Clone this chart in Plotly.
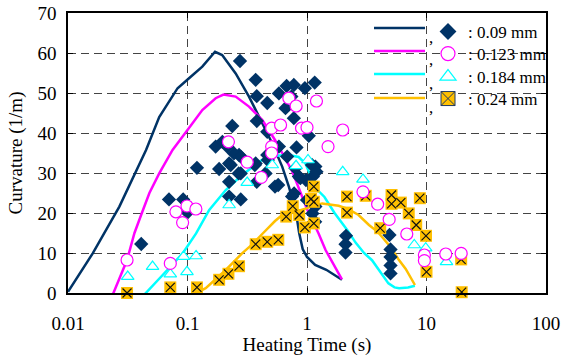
import plotly.graph_objects as go

# ---------------- data ----------------
# measured points (heating time s, curvature 1/m)
t_009 = [0.041, 0.070, 0.092, 0.10, 0.12, 0.172, 0.196, 0.237, 0.184, 0.223, 0.27, 0.268, 0.223, 0.223,
         0.279, 0.275, 0.372, 0.38, 0.465, 0.38, 0.582, 0.675, 0.776, 0.96, 1.16, 0.661, 0.776, 0.465,
         1.035, 0.817, 0.582, 0.465, 0.372, 0.45, 0.574, 0.682, 0.855, 1.175, 1.12, 0.75, 1.0, 1.175,
         1.11, 2.12, 2.1, 2.1, 4.9, 5.0, 5.0, 5.0, 5.0, 0.215, 0.245, 0.23, 0.279, 0.279, 0.366, 0.38,
         0.47, 0.54, 0.74, 0.98, 1.1, 1.2, 0.8, 0.78, 0.88, 1.17]
c_009 = [12.25, 23.4, 23.4, 20.1, 31.3, 36.6, 37.8, 41.75, 31.0, 32.4, 34.5, 29.9, 27.8, 24.1,
         23.4, 58.0, 53.3, 49.2, 47.5, 43.0, 49.9, 51.75, 52.0, 51.2, 52.6, 46.2, 43.7, 40.3,
         39.3, 36.4, 36.6, 34.5, 32.4, 29.9, 27.0, 34.1, 29.1, 31.6, 29.1, 24.1, 23.25, 21.6,
         19.9, 14.3, 12.2, 10.1, 14.5, 10.9, 9.0, 6.9, 4.9, 36.6, 34.9, 32.0, 34.1, 29.9, 32.0, 27.8,
         33.25, 26.6, 49.1, 28.25, 32.0, 30.3, 31.2, 24.9, 28.7, 17.8]

t_0123 = [0.0312, 0.0718, 0.080, 0.099, 0.091, 0.1175, 0.22, 0.316, 0.414, 0.506, 0.506, 0.506, 0.601,
          0.705, 0.811, 0.9, 1.0, 1.2, 1.5, 1.99, 2.94, 3.9, 4.87, 6.84, 9.6, 9.6, 14.5, 19.5]
c_0123 = [8.25, 7.4, 20.3, 21.75, 17.6, 21.0, 37.8, 32.7, 28.9, 36.6, 35.0, 41.2, 42.0,
          48.7, 46.75, 41.2, 41.4, 48.0, 36.6, 40.75, 25.3, 22.2, 18.4, 14.75, 9.5, 8.1, 9.75, 9.9]

t_0184 = [0.0316, 0.051, 0.0718, 0.0927, 0.099, 0.118, 0.223, 0.316, 0.512, 0.81, 1.02, 1.99, 2.94,
          7.9, 9.85, 14.7]
c_0184 = [4.1, 6.6, 4.7, 9.1, 5.3, 9.25, 22.0, 27.6, 32.0, 31.8, 33.25, 30.3, 28.4,
          12.0, 11.2, 7.8]

t_024 = [0.0312, 0.0718, 0.12, 0.184, 0.22, 0.27, 0.372, 0.465, 0.575, 0.67, 0.76, 0.86, 0.96, 1.14,
         1.14, 1.14, 1.08, 2.16, 2.16, 3.1, 5.1, 5.1, 6.1, 7.1, 4.1, 8.2, 9.9, 10.0, 8.8, 19.7, 19.5]
c_024 = [0.0, 1.4, 1.4, 3.3, 4.8, 6.7, 12.2, 12.8, 13.3, 19.1, 21.7, 19.5, 16.4, 17.4,
         26.6, 22.8, 23.5, 24.1, 20.1, 24.3, 24.5, 22.3, 22.6, 19.9, 16.2, 17.0, 14.3, 5.3, 23.7, 0.2, 8.4]

# model curves
lt_009 = [0.01, 0.0161, 0.0269, 0.045, 0.058, 0.0826, 0.103, 0.133, 0.17, 0.195, 0.253, 0.327, 0.423,
          0.512, 0.62, 0.705, 0.77, 0.82, 0.86, 0.92, 1.0, 1.17, 1.45, 1.96]
lc_009 = [0.3, 9.9, 21.6, 35.75, 44.0, 51.2, 53.7, 56.6, 60.3, 59.5, 54.9, 49.1, 42.4,
          37.4, 31.6, 26.6, 22.5, 19.0, 15.0, 11.0, 9.0, 7.0, 5.8, 3.3]

lt_0123 = [0.0205, 0.024, 0.0312, 0.036, 0.0415, 0.048, 0.058, 0.075, 0.1, 0.133, 0.172, 0.2, 0.253,
           0.327, 0.423, 0.54, 0.75, 1.0, 1.25, 1.43, 1.96]
lc_0123 = [-3.0, 0.0, 8.25, 15.0, 20.0, 25.0, 29.9, 35.75, 40.75, 45.75, 48.7, 49.6, 49.1,
           46.6, 43.25, 38.25, 30.5, 21.0, 14.9, 10.75, 3.4]

lt_0184 = [0.039, 0.042, 0.062, 0.091, 0.118, 0.152, 0.209, 0.286, 0.42, 0.55, 0.7, 0.85, 0.97, 1.1,
           1.25, 1.4, 1.7, 1.84, 2.2, 2.55, 3.0, 3.5, 4.2, 4.8, 5.4, 5.9, 7.0, 8.0]
lc_0184 = [-2.0, -0.9, 4.5, 9.9, 14.9, 20.75, 25.75, 29.5, 33.25, 34.3, 34.5, 34.0, 32.4, 28.5,
           25.5, 24.0, 20.0, 18.7, 15.5, 12.6, 10.0, 8.2, 5.0, 2.4, 1.4, 1.2, 1.4, 1.8]

lt_024 = [0.098, 0.11, 0.142, 0.209, 0.286, 0.35, 0.43, 0.54, 0.62, 0.8, 1.0, 1.07, 1.34, 1.84, 2.2,
          2.7, 3.3, 3.9, 5.0, 5.8, 6.7, 7.5, 8.0]
lc_024 = [-2.0, -0.5, 1.2, 5.75, 9.9, 12.2, 15.0, 18.0, 19.5, 20.3, 21.2, 21.6, 22.4, 21.8, 21.0,
          19.5, 17.0, 15.3, 11.5, 8.5, 6.0, 3.5, 2.0]

series_names = [": 0.09 mm", ": 0.123 mm", ": 0.184 mm", ": 0.24 mm"]
x_ticks = [0.01, 0.1, 1, 10, 100]
x_ticktext = ["0.01", "0.1", "1", "10", "100"]
y_ticks = [0, 10, 20, 30, 40, 50, 60, 70]

NAVY = "#003366"
MAG = "#FF00FF"
CYAN = "#00FFFF"
GOLD = "#FFC000"
FONT = "Liberation Serif"

fig = go.Figure()

# curves
for xs, ys, col in [(lt_009, lc_009, NAVY), (lt_0123, lc_0123, MAG),
                    (lt_0184, lc_0184, CYAN), (lt_024, lc_024, GOLD)]:
    fig.add_trace(go.Scatter(x=xs, y=ys, mode="lines", line=dict(color=col, width=2.5),
                             showlegend=False, hoverinfo="skip"))

# markers
fig.add_trace(go.Scatter(x=t_009, y=c_009, mode="markers", showlegend=False,
                         marker=dict(symbol="diamond", size=11, color=NAVY, line=dict(width=0)),
                         cliponaxis=False))
fig.add_trace(go.Scatter(x=t_024, y=c_024, mode="markers", showlegend=False,
                         marker=dict(symbol="square", size=12, color=GOLD, line=dict(width=0)),
                         cliponaxis=False))
fig.add_trace(go.Scatter(x=t_024, y=c_024, mode="markers", showlegend=False,
                         marker=dict(symbol="x-thin", size=9, color="#111111",
                                     line=dict(width=1.2, color="#111111")),
                         cliponaxis=False))
fig.add_trace(go.Scatter(x=t_0184, y=c_0184, mode="markers", showlegend=False,
                         marker=dict(symbol="triangle-up", size=11, color="white",
                                     line=dict(width=1.2, color=CYAN)),
                         cliponaxis=False))
fig.add_trace(go.Scatter(x=t_0123, y=c_0123, mode="markers", showlegend=False,
                         marker=dict(symbol="circle", size=12, color="white",
                                     line=dict(width=1.2, color=MAG)),
                         cliponaxis=False))

# legend proxies (one legend per row so rows sit exactly where the reference has them)
legend_markers = [
    dict(symbol="diamond", size=13, color=NAVY, line=dict(width=0)),
    dict(symbol="circle", size=14, color="white", line=dict(width=1.2, color=MAG)),
    dict(symbol="triangle-up", size=14, color="white", line=dict(width=1.2, color=CYAN)),
    dict(symbol="square-x", size=14, color=GOLD, line=dict(width=1, color="#1F3864")),
]
legend_ids = ["legend", "legend2", "legend3", "legend4"]
for name, mk, lid in zip(series_names, legend_markers, legend_ids):
    fig.add_trace(go.Scatter(x=[None], y=[None], mode="markers", name=name, marker=mk,
                             legend=lid, showlegend=True))

# manual legend line samples + commas
PL, PR, PT, PB = 68, 546, 13, 293
W, H = PR - PL, PB - PT
def px(x):
    return (x - PL) / W
def py(y):
    return (PB - y) / H

shapes = [dict(type="rect", xref="paper", yref="paper", x0=px(368), x1=px(544.5),
               y0=py(112), y1=py(14.5), fillcolor="white", line=dict(width=0), layer="between")]
annotations = []
line_rows = [28, 51, 74, 98]
for yy, col in zip(line_rows, [NAVY, MAG, CYAN, GOLD]):
    shapes.append(dict(type="line", xref="paper", yref="paper", x0=px(374), x1=px(425),
                       y0=py(yy), y1=py(yy), line=dict(color=col, width=2.5), layer="above"))
    annotations.append(dict(xref="paper", yref="paper", x=px(431), y=py(yy + 9), text=",",
                            showarrow=False, font=dict(family=FONT, size=17, color="black"),
                            xanchor="center", yanchor="middle"))

legend_rows = [32, 54, 77, 99]
legend_layout = {}
for lid, yy in zip(legend_ids, legend_rows):
    legend_layout[lid] = dict(x=px(428), y=py(yy), xanchor="left", yanchor="middle",
                              bgcolor="rgba(0,0,0,0)", borderwidth=0, itemwidth=30,
                              font=dict(family=FONT, size=17, color="black"))

fig.update_layout(
    width=563, height=356,
    margin=dict(l=PL, r=563 - PR, t=PT, b=356 - PB, pad=0, autoexpand=False),
    paper_bgcolor="white", plot_bgcolor="white",
    font=dict(family=FONT, size=19, color="black"),
    showlegend=True,
    shapes=shapes, annotations=annotations,
    xaxis=dict(type="log", range=[-2, 2], tickvals=x_ticks, ticktext=x_ticktext,
               showgrid=True, gridcolor="#444444", griddash="8px,5px", gridwidth=1,
               showline=True, linecolor="black", linewidth=1.5, mirror="ticks",
               ticks="inside", ticklen=5, tickcolor="black", zeroline=False,
               ticklabelstandoff=12,
               title=dict(text="Heating Time (s)", standoff=0, font=dict(size=19))),
    yaxis=dict(range=[0, 70], tickvals=y_ticks,
               showgrid=True, gridcolor="#444444", griddash="8px,5px", gridwidth=1,
               showline=True, linecolor="black", linewidth=1.5, mirror="ticks",
               ticks="inside", ticklen=5, tickcolor="black", zeroline=False,
               ticklabelstandoff=6,
               title=dict(text="Curvature (1/m)", standoff=10, font=dict(size=19))),
    **legend_layout,
)

fig.write_html("out.html")
